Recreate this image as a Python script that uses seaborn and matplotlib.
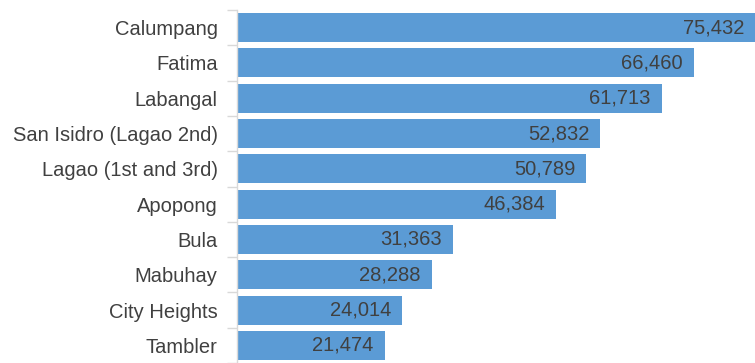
import matplotlib
matplotlib.use("Agg")
import matplotlib.pyplot as plt
import seaborn as sns
import pandas as pd
import numpy as np

barangays = ["Calumpang", "Fatima", "Labangal", "San Isidro (Lagao 2nd)",
             "Lagao (1st and 3rd)", "Apopong", "Bula", "Mabuhay",
             "City Heights", "Tambler"]
population = [75432, 66460, 61713, 52832, 50789, 46384, 31363, 28288, 24014, 21474]

df = pd.DataFrame({"barangay": barangays, "population": population})

sns.set_theme(style="white")
plt.rcParams["font.family"] = ["Liberation Sans", "DejaVu Sans"]

fig = plt.figure(figsize=(7.55, 3.63), dpi=100)
ax = fig.add_axes([237 / 755, 0.0, 1 - 237 / 755, 1 - 10 / 363])

sns.barplot(data=df, x="population", y="barangay", color="#5B9BD5",
            saturation=1, width=0.82, ax=ax, orient="h", edgecolor="none")

ax.set_xlim(0, 75300)
ax.set_ylim(len(barangays) - 0.5, -0.5)
ax.set_xlabel("")
ax.set_ylabel("")
ax.set_xticks([])

for s in ["top", "right", "bottom"]:
    ax.spines[s].set_visible(False)
ax.spines["left"].set_color("#D9D9D9")
ax.spines["left"].set_linewidth(1.0)

ax.tick_params(axis="y", which="major", left=True, length=0, pad=14,
               labelsize=14.5, labelcolor="#404040")
ax.set_yticks(np.arange(-0.5, len(barangays) + 0.5, 1), minor=True)
ax.tick_params(axis="y", which="minor", left=True, length=7, width=1.0,
               color="#D9D9D9", direction="out")

# value labels sit inside the bar ends
for i, v in enumerate(population):
    ax.annotate(f"{v:,}", xy=(v, i), xytext=(-8, 0), textcoords="offset points",
                ha="right", va="center", fontsize=14.5, color="#404040",
                annotation_clip=False)

fig.savefig("out.png", dpi=100)
